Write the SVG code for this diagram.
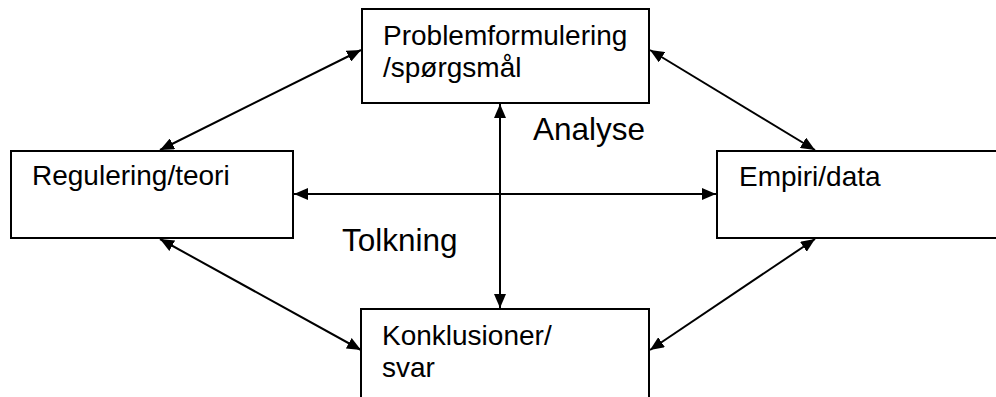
<svg xmlns="http://www.w3.org/2000/svg" width="996" height="397" viewBox="0 0 996 397">
<style>
.box{fill:#fff;stroke:#000;stroke-width:2}
.lbl{font-family:"Liberation Sans",Arial,sans-serif;font-size:28px;fill:#000}
.big{font-family:"Liberation Sans",Arial,sans-serif;font-size:31.5px;fill:#000}
.con{stroke:#000;stroke-width:2;fill:none;marker-start:url(#ah);marker-end:url(#ah)}
</style>
<defs>
<marker id="ah" viewBox="0 0 14 12" refX="14" refY="6" markerWidth="14" markerHeight="12" markerUnits="userSpaceOnUse" orient="auto-start-reverse">
<path d="M0,0 L14,6 L0,12 Z" fill="#000"/>
</marker>
</defs>
<rect width="996" height="397" fill="#fff"/>
<g id="connectors">
<line class="con" x1="160" y1="150" x2="361" y2="50"/>
<line class="con" x1="650" y1="50" x2="815" y2="150"/>
<line class="con" x1="160" y1="239" x2="361" y2="350"/>
<line class="con" x1="650" y1="350" x2="815" y2="239"/>
<line class="con" x1="500" y1="104" x2="500" y2="308"/>
<line class="con" x1="294" y1="194" x2="716" y2="194"/>
</g>
<g id="problem">
<rect class="box" x="362" y="9" width="287" height="94"/>
<text class="lbl" x="383" y="45">Problemformulering</text>
<text class="lbl" x="383" y="77">/spørgsmål</text>
</g>
<g id="regulering">
<rect class="box" x="11" y="151" width="282" height="87"/>
<text class="lbl" x="32" y="185">Regulering/teori</text>
</g>
<g id="empiri">
<rect class="box" x="717" y="151" width="290" height="87"/>
<text class="lbl" x="739" y="186">Empiri/data</text>
</g>
<g id="konklusioner">
<rect class="box" x="361" y="309" width="288" height="100"/>
<text class="lbl" x="382" y="345">Konklusioner/</text>
<text class="lbl" x="382" y="377">svar</text>
</g>
<text class="big" x="533" y="140">Analyse</text>
<text class="big" x="342" y="251">Tolkning</text>
</svg>
